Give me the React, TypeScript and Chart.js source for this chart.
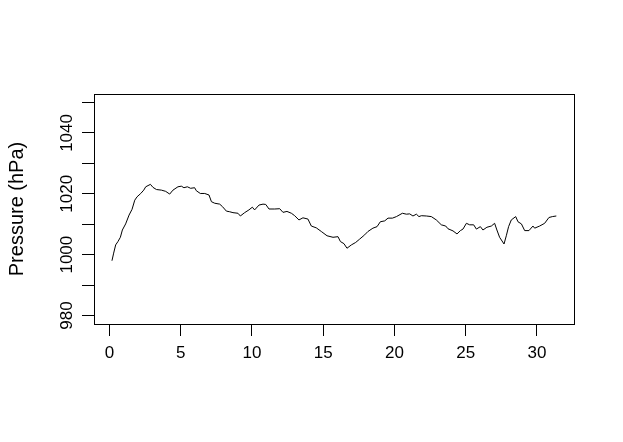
import React, { useEffect, useRef } from "react";
import { Chart, registerables } from "chart.js";

Chart.register(...registerables);

// Time in days
const days: number[] = [
  0.18, 0.30, 0.44, 0.60, 0.77, 0.91, 1.14, 1.38, 1.59, 1.78, 1.94, 2.20, 2.41, 2.55, 2.88,
  3.06, 3.30, 3.65, 3.95, 4.23, 4.46, 4.81, 5.05, 5.23, 5.47, 5.70, 5.98, 6.10, 6.38, 6.69,
  6.99, 7.16, 7.39, 7.74, 7.93, 8.21, 8.44, 8.67, 9.02, 9.19, 9.49, 9.79, 10.03, 10.19, 10.50,
  10.78, 10.97, 11.20, 11.60, 11.95, 12.18, 12.46, 12.77, 13.00, 13.30, 13.58, 13.93, 14.17, 14.52,
  14.87, 15.27, 15.69, 16.04, 16.21, 16.46, 16.67, 16.98, 17.28, 17.56, 17.91, 18.14, 18.49, 18.78,
  19.01, 19.32, 19.55, 19.86, 20.14, 20.56, 20.84, 21.07, 21.30, 21.54, 21.72, 21.89, 22.24, 22.59,
  22.94, 23.29, 23.60, 23.76, 24.11, 24.39, 24.63, 24.81, 25.05, 25.28, 25.56, 25.75, 26.03, 26.21,
  26.49, 26.80, 27.03, 27.19, 27.38, 27.69, 27.85, 28.01, 28.20, 28.51, 28.67, 28.91, 29.14, 29.44,
  29.72, 29.84, 30.19, 30.54, 30.84, 31.08, 31.36,
];

// Pressure in hPa
const pressure: number[] = [
  998.0, 1000.5, 1003.2, 1004.3, 1005.7, 1008.1, 1010.1, 1013.0, 1014.9, 1017.9, 1019.0, 1020.1, 1021.2, 1022.3, 1023.1,
  1022.1, 1021.4, 1021.2, 1020.8, 1019.9, 1021.2, 1022.3, 1022.5, 1022.0, 1022.3, 1021.8, 1022.0, 1021.0, 1020.1, 1020.1,
  1019.6, 1017.4, 1016.9, 1016.6, 1015.8, 1014.3, 1014.1, 1013.8, 1013.6, 1012.7, 1013.8, 1014.7, 1015.6, 1014.7, 1016.3,
  1016.6, 1016.5, 1015.0, 1015.0, 1015.1, 1013.9, 1014.2, 1013.6, 1012.8, 1011.4, 1012.1, 1011.7, 1009.4, 1008.8,
  1007.6, 1006.2, 1005.7, 1005.9, 1004.3, 1003.6, 1002.1, 1003.2, 1004.0, 1005.1, 1006.5, 1007.6, 1008.7, 1009.2,
  1010.8, 1011.1, 1012.0, 1012.0, 1012.5, 1013.6, 1013.3, 1013.4, 1012.7, 1013.3, 1012.5, 1012.8, 1012.7, 1012.5,
  1011.4, 1009.8, 1009.4, 1008.5, 1007.8, 1006.8, 1007.9, 1008.4, 1010.3, 1009.8, 1009.8, 1008.4, 1009.2, 1008.1,
  1009.0, 1009.4, 1010.3, 1008.1, 1005.7, 1003.5, 1006.2, 1009.2, 1011.4, 1012.5, 1010.8, 1010.1, 1007.9, 1007.9,
  1009.4, 1008.7, 1009.4, 1010.3, 1012.2, 1012.5, 1012.7,
];

const xTickValues: number[] = [0, 5, 10, 15, 20, 25, 30];
const yTickValues: number[] = [980, 990, 1000, 1010, 1020, 1030, 1040, 1050];
const yLabelValues: number[] = [980, 1000, 1020, 1040];
const yAxisTitle = "Pressure (hPa)";

const FONT = "'Liberation Sans', Arial, sans-serif";

export default function App() {
  const canvasRef = useRef<HTMLCanvasElement | null>(null);

  useEffect(() => {
    const canvas = canvasRef.current;
    if (!canvas) return;

    const rPlugin = {
      id: "rStyle",
      beforeDraw(chart: any) {
        const ctx = chart.ctx;
        ctx.save();
        ctx.fillStyle = "#ffffff";
        ctx.fillRect(0, 0, chart.width, chart.height);
        ctx.restore();
      },
      afterDraw(chart: any) {
        const ctx = chart.ctx;
        const a = chart.chartArea;
        ctx.save();
        ctx.strokeStyle = "#000000";
        ctx.lineWidth = 1;
        ctx.strokeRect(
          Math.round(a.left) + 0.5,
          Math.round(a.top) + 0.5,
          Math.round(a.right) - Math.round(a.left),
          Math.round(a.bottom) - Math.round(a.top)
        );
        const ys = chart.scales.y;
        ctx.fillStyle = "#000000";
        ctx.font = `17px ${FONT}`;
        ctx.textAlign = "center";
        ctx.textBaseline = "alphabetic";
        for (const v of yLabelValues) {
          const py = ys.getPixelForValue(v);
          ctx.save();
          ctx.translate(72, py);
          ctx.rotate(-Math.PI / 2);
          ctx.fillText(String(v), 0, 0);
          ctx.restore();
        }
        ctx.font = `20px ${FONT}`;
        ctx.save();
        ctx.translate(23, (a.top + a.bottom) / 2);
        ctx.rotate(-Math.PI / 2);
        ctx.fillText(yAxisTitle, 0, 0);
        ctx.restore();
        ctx.restore();
      },
    };

    const chart = new Chart(canvas, {
      type: "line",
      data: {
        datasets: [
          {
            data: days.map((d, i) => ({ x: d, y: pressure[i] })),
            borderColor: "#000000",
            borderWidth: 1,
            pointRadius: 0,
            tension: 0,
            fill: false,
          },
        ],
      },
      options: {
        responsive: false,
        animation: false,
        layout: { padding: { left: 0, top: 94, right: 49, bottom: 0 } },
        plugins: {
          legend: { display: false },
          tooltip: { enabled: false },
          title: { display: false },
        },
        scales: {
          x: {
            type: "linear",
            min: -1.08,
            max: 32.6,
            afterBuildTicks: (scale: any) => {
              scale.ticks = xTickValues.map((v) => ({ value: v }));
            },
            afterFit: (scale: any) => {
              scale.height = 118;
            },
            grid: {
              drawOnChartArea: false,
              drawTicks: true,
              tickLength: 12,
              color: "#000000",
              tickColor: "#000000",
              lineWidth: 1,
            },
            border: { display: false },
            ticks: {
              color: "#000000",
              font: { family: FONT, size: 17 },
              padding: 7,
              maxRotation: 0,
              minRotation: 0,
              autoSkip: false,
              callback: (v: any) => String(v),
            },
          },
          y: {
            type: "linear",
            min: 977.2,
            max: 1052.8,
            afterBuildTicks: (scale: any) => {
              scale.ticks = yTickValues.map((v) => ({ value: v }));
            },
            afterFit: (scale: any) => {
              scale.width = 94;
            },
            grid: {
              drawOnChartArea: false,
              drawTicks: true,
              tickLength: 12,
              color: "#000000",
              tickColor: "#000000",
              lineWidth: 1,
            },
            border: { display: false },
            ticks: {
              display: true,
              color: "rgba(0,0,0,0)",
              font: { family: FONT, size: 16 },
              callback: () => "",
            },
          },
        },
      },
      plugins: [rPlugin],
    });

    return () => {
      chart.destroy();
    };
  }, []);

  return (
    <div style={{ position: "fixed", left: 0, top: 0, width: 623, height: 442, background: "#ffffff" }}>
      <canvas ref={canvasRef} width={623} height={442} style={{ display: "block" }} />
    </div>
  );
}
